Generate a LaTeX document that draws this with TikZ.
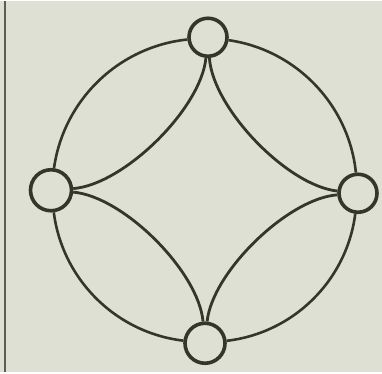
\documentclass[tikz,border=0pt]{standalone}
\usepackage{tikz}
\definecolor{paper}{RGB}{221,224,211}
\definecolor{ink}{RGB}{52,54,40}
\begin{document}
\begin{tikzpicture}[
	x=1pt,
	y=1pt,
	vertex/.style={circle, draw=ink, line width=3.6pt, fill=paper, minimum size=38pt, inner sep=0pt},
	rim/.style={draw=ink, line width=2.6pt, bend right=38, looseness=0.95},
	cusp/.style={draw=ink, line width=2.8pt, bend left=40, looseness=0.7}
	]
	% --- paper and left frame edge ---
	\fill[paper] (0,0) rectangle (382,371);
	\draw[line width=2.5pt, ink!80] (5,0) -- (5,371);

	% --- the four vertices ---
	\node[vertex] (top) at (208,335) {};
	\node[vertex, minimum size=41pt] (lft) at (51,182) {};
	\node[vertex] (rgt) at (358,179) {};
	\node[vertex, minimum size=40pt] (bot) at (205,29) {};

	% outer ring
	\draw[rim] (top) to (lft);
	\draw[rim] (lft) to (bot);
	\draw[rim] (bot) to (rgt);
	\draw[rim] (rgt) to (top);

	% inner star
	\draw[cusp] (top) to (lft);
	\draw[cusp] (lft) to (bot);
	\draw[cusp] (bot) to (rgt);
	\draw[cusp] (rgt) to (top);
\end{tikzpicture}
\end{document}
